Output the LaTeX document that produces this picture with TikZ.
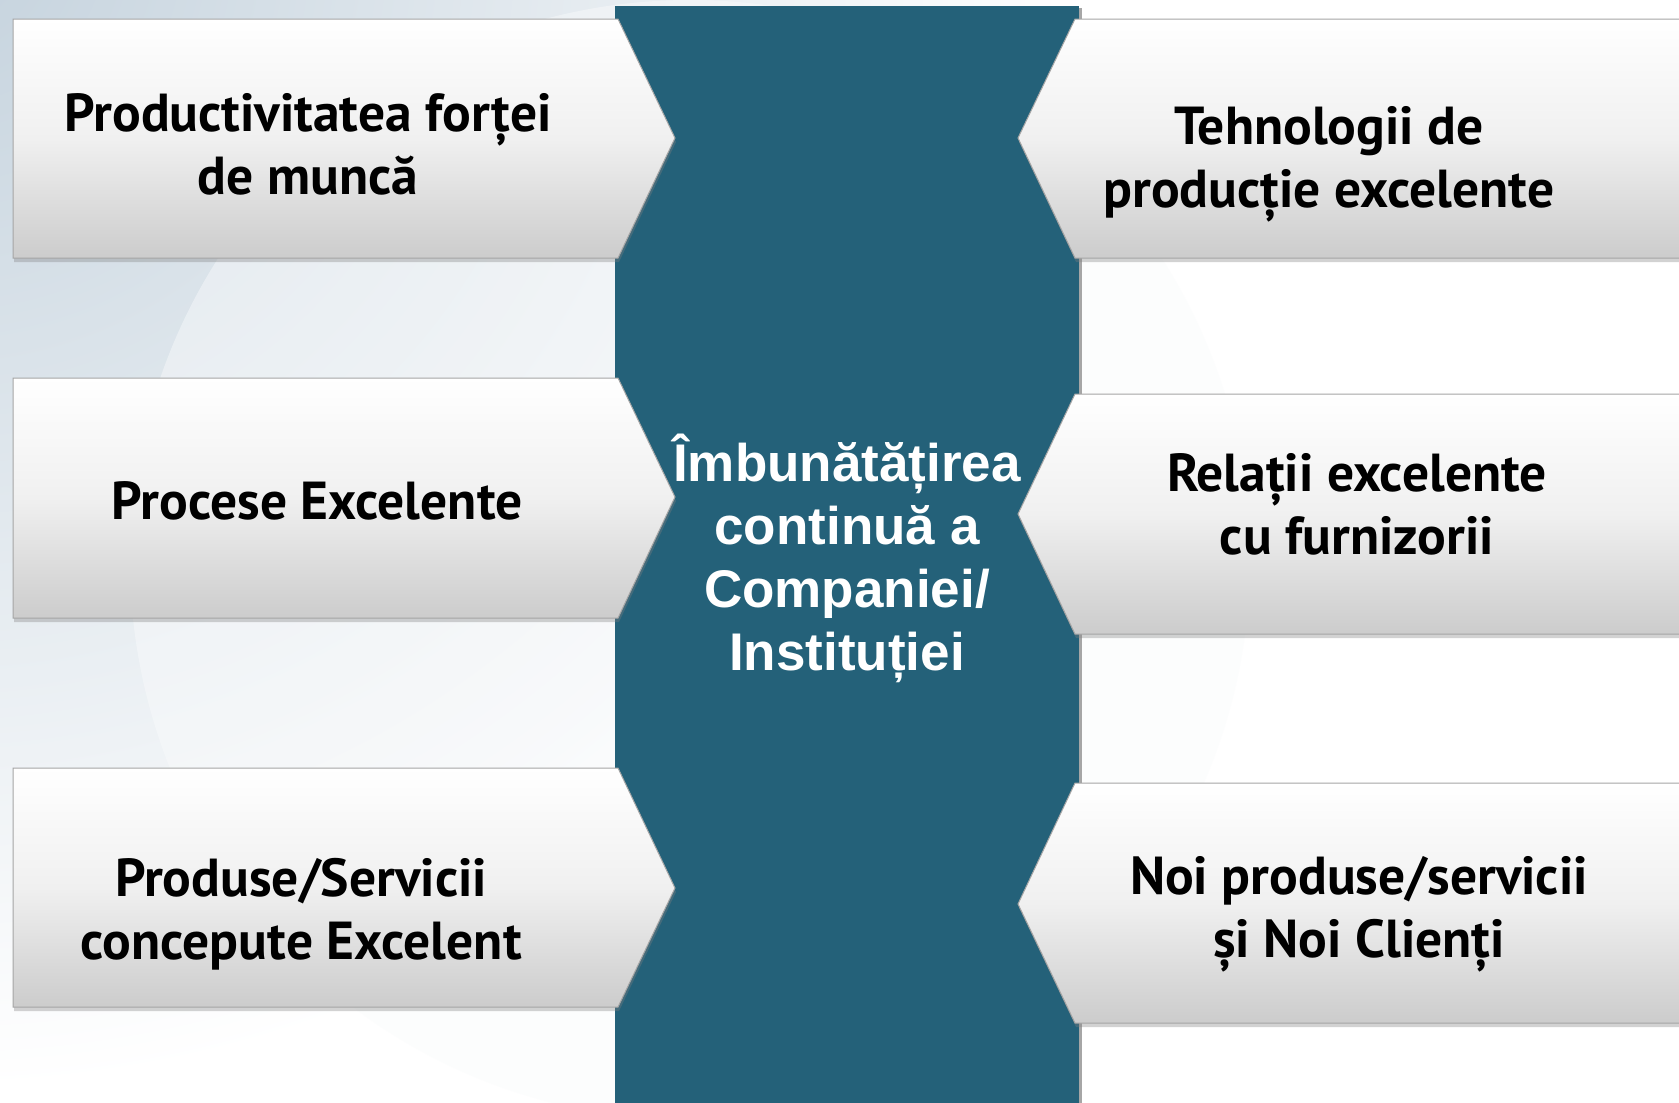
\documentclass[tikz,border=0pt]{standalone}
\usepackage{fontspec}
\setmainfont{Liberation Sans}
\newfontfamily\boxfont{PT Sans}
\usetikzlibrary{shadows}
\definecolor{colblue}{RGB}{36,97,121}
\definecolor{bgblue}{RGB}{196,210,221}
\definecolor{boxgray}{RGB}{204,204,204}
\definecolor{boxmid}{RGB}{240,240,240}
\definecolor{edgegray}{RGB}{165,165,165}
\definecolor{ringgray}{RGB}{250,251,252}
\tikzset{
  arrowbox/.style={top color=white, bottom color=boxgray, middle color=boxmid,
    draw=edgegray, line width=1pt,
    drop shadow={shadow xshift=1pt, shadow yshift=-4pt, opacity=0.35}},
  boxtext/.style={font={\boxfont\bfseries\fontsize{53.5}{63}\selectfont}, align=center, text=black, inner sep=0pt},
  centertext/.style={font={\bfseries\fontsize{53}{63}\selectfont}, align=center, text=white, inner sep=0pt}
}
\begin{document}
\begin{tikzpicture}[x=1pt,y=-1pt]
\useasboundingbox (0,0) rectangle (1679,1103);
\begin{scope}
\clip (0,0) rectangle (1679,1103);
% background
\fill[white] (0,0) rectangle (1679,1103);
\shade[inner color=bgblue, outer color=white] (-60,-60) circle (1150);
\fill[ringgray, opacity=0.45] (690,560) circle (560);
% central column
\fill[gray!70] (1079,8) rectangle (1082,1103);
\fill[colblue] (615,6) rectangle (1079,1103);
% left arrow boxes
\path[arrowbox] (13,19) -- (618,19) -- (675,138) -- (618,258) -- (13,258) -- cycle;
\path[arrowbox] (13,378) -- (618,378) -- (675,497) -- (618,618) -- (13,618) -- cycle;
\path[arrowbox] (13,768) -- (618,768) -- (675,888) -- (618,1007) -- (13,1007) -- cycle;
% right arrow boxes
\path[arrowbox] (1700,19) -- (1075,19) -- (1018,138) -- (1075,258) -- (1700,258) -- cycle;
\path[arrowbox] (1700,394) -- (1075,394) -- (1018,514) -- (1075,634) -- (1700,634) -- cycle;
\path[arrowbox] (1700,783) -- (1075,783) -- (1018,904) -- (1075,1023) -- (1700,1023) -- cycle;
\end{scope}
% texts
\node[boxtext] (l1) at (308,144) {Productivitatea forței\\de muncă};
\node[boxtext] (l2) at (317,501) {Procese Excelente};
\node[boxtext] (l3) at (301,914) {Produse/Servicii\\concepute Excelent};
\node[boxtext] (r1) at (1329,164) {Tehnologii de\\producție excelente};
\node[boxtext] (r2) at (1357,504) {Relații excelente\\cu furnizorii};
\node[boxtext] (r3) at (1359,914) {Noi produse/servicii\\și Noi Clienți};
\node[centertext] (c) at (847,558) {Îmbunătățirea\\continuă a\\Companiei/\\Instituției};
\end{tikzpicture}
\end{document}
